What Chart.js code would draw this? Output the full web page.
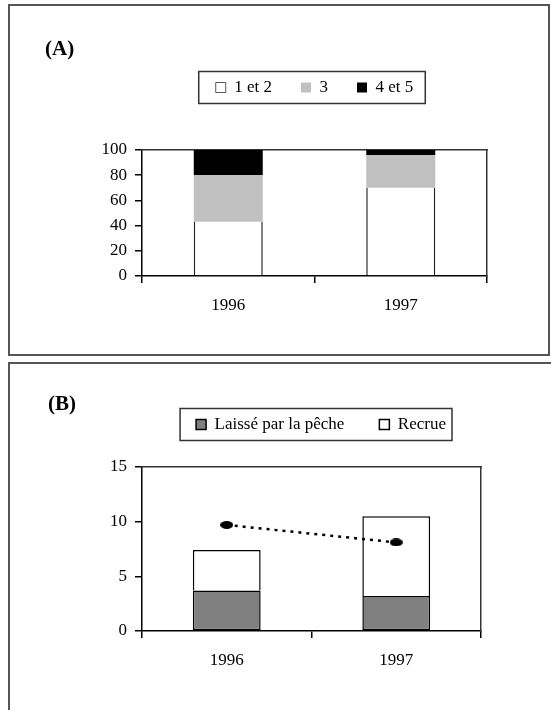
<!DOCTYPE html>
<html>
<head>
<meta charset="utf-8">
<script src="https://cdn.jsdelivr.net/npm/chart.js@4/dist/chart.umd.min.js"></script>
<style>
  body { margin: 0; background: #fff; width: 551px; height: 710px; overflow: hidden; position: relative; }
  canvas { position: absolute; left: 0; }
  #chartA { top: 0; }
  #chartB { top: 356px; }
  .panel { position: absolute; border: 2px solid #555; box-sizing: border-box; }
  .tag { position: absolute; font: bold 21px/20px "Liberation Serif", serif; color: #000; }
</style>
</head>
<body>
<canvas id="chartA" width="551" height="356"></canvas>
<canvas id="chartB" width="551" height="354"></canvas>
<div class="panel" style="left:8px;top:4px;width:542px;height:352px"></div>
<div class="panel" style="left:8px;top:362px;width:546px;height:400px"></div>
<div class="tag" style="left:45px;top:38px">(A)</div>
<div class="tag" style="left:48px;top:393px">(B)</div>
<script>
const years = ["1996", "1997"];

// (A) composition en %
const classe12 = [43, 70];
const classe3 = [37, 26];
const classe45 = [20, 4];
const yTicksA = [0, 20, 40, 60, 80, 100];

// (B)
const laisse = [3.7, 3.2];
const recrue = [3.7, 7.3];
const points = [9.7, 8.1];
const yTicksB = [0, 5, 10, 15];

Chart.defaults.font.family = '"Liberation Serif", serif';
Chart.defaults.font.size = 17;
Chart.defaults.color = "#000";
Chart.defaults.animation = false;

// cadre autour de la légende
const legendFrame = {
  id: "legendFrame",
  afterDraw(chart, args, opts) {
    const boxes = chart.legend && chart.legend.legendHitBoxes;
    if (!boxes || !boxes.length) return;
    const first = boxes[0];
    const last = boxes[boxes.length - 1];
    const cy = first.top + first.height / 2;
    const ctx = chart.ctx;
    ctx.save();
    ctx.strokeStyle = "#333";
    ctx.lineWidth = 1.5;
    ctx.strokeRect(first.left - opts.left, cy - 16, last.left + last.width + opts.right - (first.left - opts.left), 32);
    ctx.restore();
  },
};

// ellipse noire pour les points
const dot = document.createElement("canvas");
dot.width = 13;
dot.height = 8;
const dctx = dot.getContext("2d");
dctx.fillStyle = "#000";
dctx.beginPath();
dctx.ellipse(6.5, 4, 6.5, 4, 0, 0, Math.PI * 2);
dctx.fill();

function scales(ticks, gapHeight, xHeight) {
  return {
    x: {
      stacked: true,
      afterFit: (s) => { s.height = xHeight; },
      grid: { display: true, drawOnChartArea: false, offset: true, tickLength: 7, color: "#000", lineWidth: 1.5 },
      border: { color: "#000", width: 1.5 },
      ticks: { padding: 12 },
    },
    y: {
      stacked: true,
      min: ticks[0],
      max: ticks[ticks.length - 1],
      afterFit: (s) => { s.width = 142; },
      ticks: { stepSize: ticks[1] - ticks[0], padding: 8 },
      grid: { display: true, drawOnChartArea: false, tickLength: 7, color: "#000", lineWidth: 1.5 },
      border: { color: "#000", width: 1.5 },
    },
    gap: {
      type: "category",
      position: "top",
      afterFit: (s) => { s.height = gapHeight; },
      ticks: { display: false },
      grid: { display: false },
      border: { color: "#333", width: 1.5 },
    },
    yR: {
      type: "linear",
      position: "right",
      afterFit: (s) => { s.width = 0; },
      ticks: { display: false },
      grid: { display: false },
      border: { color: "#333", width: 1.5 },
    },
  };
}

new Chart(document.getElementById("chartA"), {
  type: "bar",
  data: {
    labels: years,
    datasets: [
      { label: "1 et 2", data: classe12, backgroundColor: "#fff", borderColor: "#222", borderWidth: { left: 1.5, right: 1.5, top: 0, bottom: 0 } },
      { label: "3", data: classe3, backgroundColor: "#c0c0c0", borderWidth: 0 },
      { label: "4 et 5", data: classe45, backgroundColor: "#000", borderWidth: 0 },
    ],
  },
  options: {
    responsive: false,
    devicePixelRatio: 1,
    barPercentage: 0.4,
    categoryPercentage: 1,
    layout: { padding: { top: 50, right: 64, left: 0, bottom: 0 } },
    scales: scales(yTicksA, 44, 80),
    plugins: {
      legend: {
        fullSize: false,
        labels: { boxWidth: 10, boxHeight: 10, padding: 29 },
      },
      legendFrame: { left: 17, right: 12 },
      tooltip: { enabled: false },
    },
  },
  plugins: [legendFrame],
});

new Chart(document.getElementById("chartB"), {
  type: "bar",
  data: {
    labels: years,
    datasets: [
      { label: "Laissé par la pêche", data: laisse, backgroundColor: "#808080", borderColor: "#000", borderWidth: 1.5, borderSkipped: false },
      { label: "Recrue", data: recrue, backgroundColor: "#fff", borderColor: "#000", borderWidth: 1.5, borderSkipped: "start" },
      {
        type: "line",
        label: "",
        data: points,
        stack: "pts",
        order: -1,
        borderColor: "#000",
        borderWidth: 2.5,
        borderDash: [3, 5],
        pointStyle: dot,
        pointRadius: 6,
      },
    ],
  },
  options: {
    responsive: false,
    devicePixelRatio: 1,
    barPercentage: 0.4,
    categoryPercentage: 1,
    layout: { padding: { top: 25, right: 70, left: 0, bottom: 0 } },
    scales: scales(yTicksB, 24, 79),
    plugins: {
      legend: {
        fullSize: false,
        align: "end",
        labels: { boxWidth: 10, boxHeight: 10, padding: 35, filter: (item) => item.text !== "" },
      },
      legendFrame: { left: 16, right: 6 },
      tooltip: { enabled: false },
    },
  },
  plugins: [legendFrame],
});
</script>
</body>
</html>
